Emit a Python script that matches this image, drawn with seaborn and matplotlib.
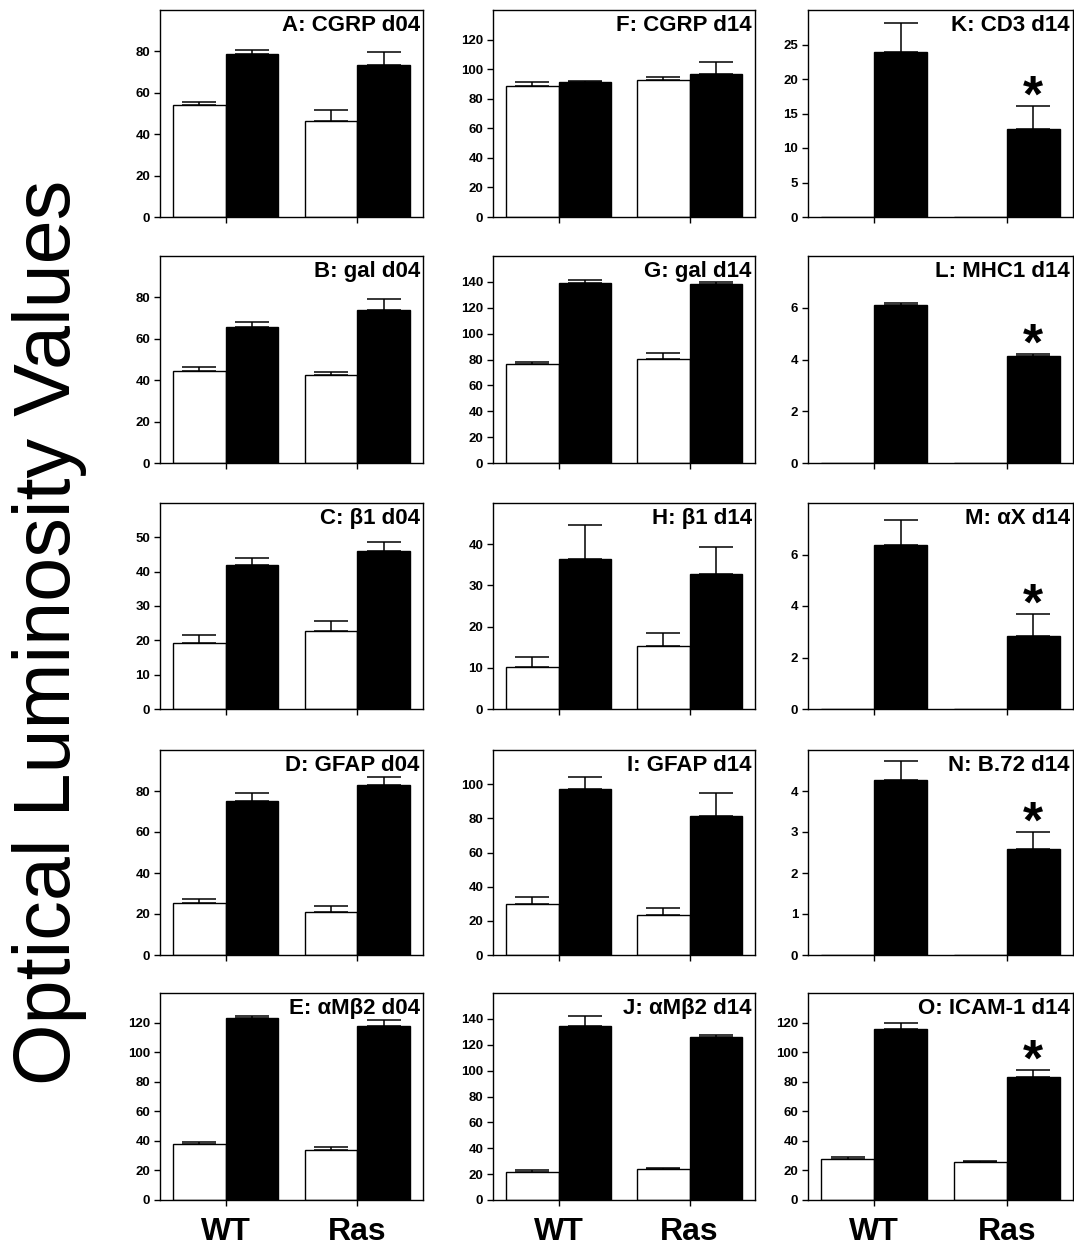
import matplotlib
matplotlib.use("Agg")
import numpy as np
import pandas as pd
import seaborn as sns
import matplotlib.pyplot as plt

# ---- data -------------------------------------------------------------
panel_titles = [
    "A: CGRP d04", "B: gal d04", "C: β1 d04", "D: GFAP d04", "E: αMβ2 d04",
    "F: CGRP d14", "G: gal d14", "H: β1 d14", "I: GFAP d14", "J: αMβ2 d14",
    "K: CD3 d14", "L: MHC1 d14", "M: αX d14", "N: B.72 d14", "O: ICAM-1 d14",
]
groups = ["WT", "Ras"]

# open (white) bars: [WT, Ras] per panel
open_mean = [
    [53.9, 46.6], [44.6, 42.3], [19.2, 22.8], [25.2, 21.1], [38.0, 33.5],
    [88.8, 92.6], [76.3, 80.5], [10.3, 15.4], [30.1, 23.3], [22.0, 24.0],
    [0.0, 0.0], [0.0, 0.0], [0.0, 0.0], [0.0, 0.0], [27.5, 25.5],
]
open_err = [
    [1.6, 5.2], [1.6, 1.7], [2.3, 2.9], [2.1, 3.0], [1.5, 2.5],
    [2.4, 2.1], [1.8, 4.5], [2.4, 3.0], [3.9, 4.5], [1.5, 1.0],
    [0.0, 0.0], [0.0, 0.0], [0.0, 0.0], [0.0, 0.0], [1.5, 1.0],
]
# filled (black) bars: [WT, Ras] per panel
filled_mean = [
    [78.6, 73.3], [65.9, 73.8], [41.9, 45.9], [75.1, 82.9], [123.0, 117.5],
    [91.0, 97.0], [139.5, 138.0], [36.5, 32.8], [97.1, 81.5], [134.5, 126.0],
    [23.9, 12.7], [6.1, 4.12], [6.38, 2.85], [4.28, 2.58], [115.5, 83.5],
]
filled_err = [
    [2.1, 6.2], [2.2, 5.4], [2.1, 2.7], [4.1, 3.8], [1.5, 4.0],
    [1.0, 7.5], [1.6, 2.0], [8.2, 6.5], [7.3, 13.6], [8.0, 1.5],
    [4.25, 3.4], [0.1, 0.1], [0.95, 0.85], [0.45, 0.42], [4.5, 4.5],
]
# significant difference WT vs Ras (filled bars)
significant = [
    False, False, False, False, False,
    False, False, False, False, False,
    True, True, True, True, True,
]

y_label = "Optical Luminosity Values"

# ---- layout -------------------------------------------------------------
y_max = [100, 100, 60, 100, 140, 140, 160, 50, 120, 160, 30, 8, 8, 5, 140]
y_step = [20, 20, 10, 20, 20, 20, 20, 10, 20, 20, 5, 2, 2, 1, 20]

W, H = 1074, 1246
col_px = [(160, 423), (493, 755), (808, 1073)]
row_px = [(10, 217), (256, 463), (503, 709), (750, 955), (993, 1200)]

rows = []
for p, title in enumerate(panel_titles):
    for g, grp in enumerate(groups):
        rows.append(dict(panel=title, group=grp, fill="open",
                         value=open_mean[p][g], err=open_err[p][g]))
        rows.append(dict(panel=title, group=grp, fill="filled",
                         value=filled_mean[p][g], err=filled_err[p][g]))
df = pd.DataFrame(rows)

sns.set_style("white")
plt.rcParams["font.family"] = ["Liberation Sans", "DejaVu Sans"]
plt.rcParams.update({
    "text.color": "black",
    "axes.labelcolor": "black",
    "xtick.color": "black",
    "ytick.color": "black",
    "axes.edgecolor": "black",
})

fig = plt.figure(figsize=(W / 100, H / 100), dpi=100)
hue_order = ["open", "filled"]
palette = {"open": "white", "filled": "black"}

for p, title in enumerate(panel_titles):
    col, row = divmod(p, 5)
    x0, x1 = col_px[col]
    y0, y1 = row_px[row]
    ax = fig.add_axes([x0 / W, 1 - y1 / H, (x1 - x0) / W, (y1 - y0) / H])
    sub = df[df.panel == title]
    sns.barplot(data=sub, x="group", y="value", hue="fill",
                order=groups, hue_order=hue_order, palette=palette,
                edgecolor="black", linewidth=1.0, errorbar=None,
                width=0.8, saturation=1, legend=False, ax=ax)

    # one-sided (upper) error bars from the bar tops
    for cont, lvl in zip(ax.containers, hue_order):
        for bar, grp in zip(cont, groups):
            rec = sub[(sub.group == grp) & (sub.fill == lvl)].iloc[0]
            if rec.err <= 0:
                continue
            xc = bar.get_x() + bar.get_width() / 2
            top = bar.get_height()
            ax.errorbar(xc, top, yerr=[[0], [rec.err]], fmt="none",
                        ecolor="black", elinewidth=1.1, capsize=12,
                        capthick=1.1, zorder=3)
            if significant[p] and lvl == "filled" and grp == "Ras":
                ax.annotate("*", xy=(xc, top + rec.err), xytext=(0, -4),
                            textcoords="offset points", ha="center",
                            va="baseline", fontsize=37, fontweight="bold",
                            color="black")

    ax.set_xlim(-0.5, 1.5)
    ax.set_ylim(0, y_max[p])
    ticks = np.arange(0, y_max[p], y_step[p])
    ax.set_yticks(ticks, labels=[f"{t:g}" for t in ticks],
                  fontsize=9.5, fontweight="bold")
    if row == 4:
        ax.set_xticks([0, 1], labels=groups, fontsize=23, fontweight="bold")
    else:
        ax.set_xticks([0, 1], labels=[])
    ax.tick_params(axis="both", direction="out", length=4, width=1,
                   colors="black", bottom=True, left=True)
    ax.tick_params(axis="x", pad=8)
    ax.tick_params(axis="y", pad=3)
    ax.set_xlabel("")
    ax.set_ylabel("")
    for s in ax.spines.values():
        s.set_visible(True)
        s.set_color("black")
        s.set_linewidth(1.0)

    ax.text(0.988, 0.975, title, transform=ax.transAxes, ha="right",
            va="top", fontsize=16, fontweight="bold", color="black", zorder=5)

fig.text(50 / W, 1 - 632 / H, y_label, rotation=90, ha="center",
         va="center", fontsize=57, color="black")

fig.savefig("out.png", dpi=100, facecolor="white")
